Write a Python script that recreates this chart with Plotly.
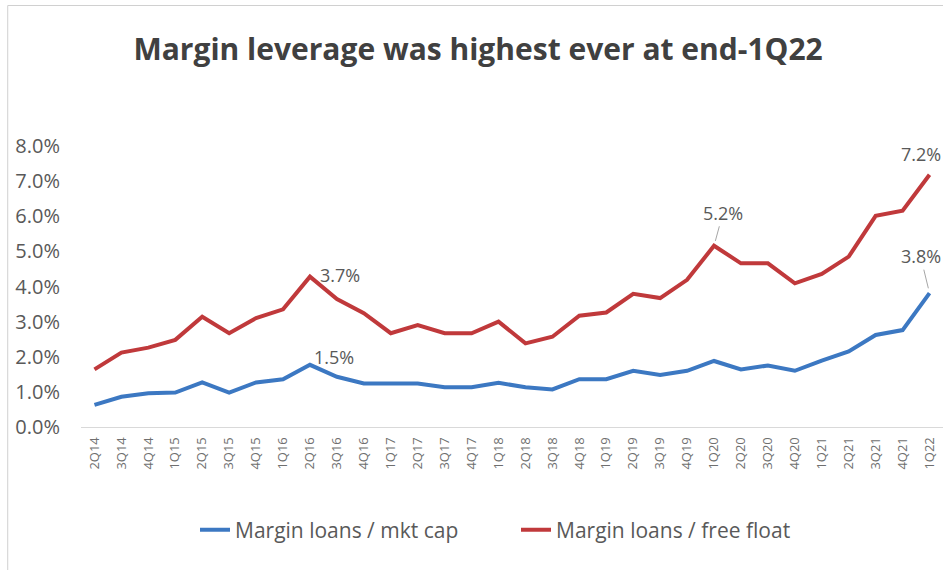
import plotly.graph_objects as go

quarters = ["2Q14", "3Q14", "4Q14",
            "1Q15", "2Q15", "3Q15", "4Q15",
            "1Q16", "2Q16", "3Q16", "4Q16",
            "1Q17", "2Q17", "3Q17", "4Q17",
            "1Q18", "2Q18", "3Q18", "4Q18",
            "1Q19", "2Q19", "3Q19", "4Q19",
            "1Q20", "2Q20", "3Q20", "4Q20",
            "1Q21", "2Q21", "3Q21", "4Q21",
            "1Q22"]

mkt_cap = [0.63, 0.86, 0.96,
           0.98, 1.27, 0.98, 1.27,
           1.36, 1.77, 1.43, 1.24,
           1.24, 1.24, 1.13, 1.13,
           1.26, 1.13, 1.07, 1.36,
           1.36, 1.60, 1.48, 1.60,
           1.88, 1.64, 1.75, 1.60,
           1.89, 2.15, 2.62, 2.76,
           3.81]

free_float = [1.64, 2.12, 2.26,
              2.48, 3.14, 2.67, 3.10,
              3.35, 4.28, 3.64, 3.24,
              2.67, 2.90, 2.67, 2.67,
              3.00, 2.38, 2.57, 3.17,
              3.26, 3.79, 3.67, 4.19,
              5.16, 4.66, 4.66, 4.09,
              4.36, 4.85, 6.01, 6.16,
              7.18]

y_ticks = [0, 1, 2, 3, 4, 5, 6, 7, 8]

# annotation labels: (quarter, text)
labels_mkt = [("2Q16", "1.5%"), ("1Q22", "3.8%")]
labels_ff = [("2Q16", "3.7%"), ("1Q20", "5.2%"), ("1Q22", "7.2%")]

BLUE = "#3C78C2"
RED = "#C0393B"
GRAY = "#595959"
FONT = "Open Sans"

PLOT_L, PLOT_W = 81, 862

fig = go.Figure()
fig.add_trace(go.Scatter(x=quarters, y=mkt_cap, mode="lines",
                         name="Margin loans / mkt cap", legend="legend",
                         line=dict(color=BLUE, width=4)))
fig.add_trace(go.Scatter(x=quarters, y=free_float, mode="lines",
                         name="Margin loans / free float", legend="legend2",
                         line=dict(color=RED, width=4)))

def val(series, q):
    return series[quarters.index(q)]

ann = []
ann.append(dict(x=labels_ff[0][0], y=val(free_float, labels_ff[0][0]), text=labels_ff[0][1],
                showarrow=False, xshift=30, yshift=2))
ann.append(dict(x=labels_mkt[0][0], y=val(mkt_cap, labels_mkt[0][0]), text=labels_mkt[0][1],
                showarrow=False, xshift=24, yshift=8))
ann.append(dict(x=labels_ff[1][0], y=val(free_float, labels_ff[1][0]), text=labels_ff[1][1],
                showarrow=True, arrowhead=0, arrowwidth=1, arrowcolor="#A6A6A6",
                ax=9, ay=-33, standoff=5))
ann.append(dict(x=labels_ff[2][0], y=val(free_float, labels_ff[2][0]), text=labels_ff[2][1],
                showarrow=False, xshift=-9, yshift=21))
ann.append(dict(x=labels_mkt[1][0], y=val(mkt_cap, labels_mkt[1][0]), text=labels_mkt[1][1],
                showarrow=True, arrowhead=0, arrowwidth=1, arrowcolor="#A6A6A6",
                ax=-9, ay=-37, standoff=5))
for a in ann:
    a["font"] = dict(family=FONT, size=18, color=GRAY)
    a["xref"] = "x"
    a["yref"] = "y"

def px_to_paper(px):
    return (px - PLOT_L) / PLOT_W

legend_common = dict(orientation="h", xanchor="left", y=-0.367, yanchor="middle",
                     font=dict(family=FONT, size=21, color=GRAY),
                     bgcolor="rgba(0,0,0,0)", borderwidth=0)

fig.update_layout(
    width=943, height=570,
    paper_bgcolor="white", plot_bgcolor="white",
    margin=dict(l=PLOT_L, r=0, t=146, b=143),
    title=dict(text="<b>Margin leverage was highest ever at end-1Q22</b>",
               x=0.507, xanchor="center", y=0.914, yanchor="middle",
               font=dict(family=FONT, size=30, color="#404040")),
    showlegend=True,
    legend=dict(x=px_to_paper(195), **legend_common),
    legend2=dict(x=px_to_paper(516), **legend_common),
    annotations=ann,
    shapes=[dict(type="line", xref="paper", yref="paper",
                 x0=-0.085, x1=-0.085, y0=-0.52, y1=1.5,
                 line=dict(color="#D0D0D0", width=1)),
            dict(type="line", xref="paper", yref="paper",
                 x0=-0.085, x1=1.05, y0=1.5, y1=1.5,
                 line=dict(color="#D0D0D0", width=1))],
)

fig.update_xaxes(type="category", range=[-0.5, len(quarters) - 0.5],
                 showgrid=False, showline=True, linecolor="#D9D9D9", linewidth=1,
                 ticks="", tickangle=-90,
                 tickfont=dict(family=FONT, size=13, color="#6F6F6F"),
                 ticklabelstandoff=4,
                 automargin=False)
fig.update_yaxes(range=[0, 8], tickvals=y_ticks,
                 ticktext=[f"{v:.1f}%" for v in y_ticks],
                 showgrid=False, zeroline=False, showline=False,
                 tickfont=dict(family=FONT, size=20, color=GRAY),
                 ticklabelstandoff=20,
                 automargin=False)

fig.write_html("out.html", config={"displayModeBar": False},
               post_script="document.body.style.margin='0px';document.body.style.overflow='hidden';")
